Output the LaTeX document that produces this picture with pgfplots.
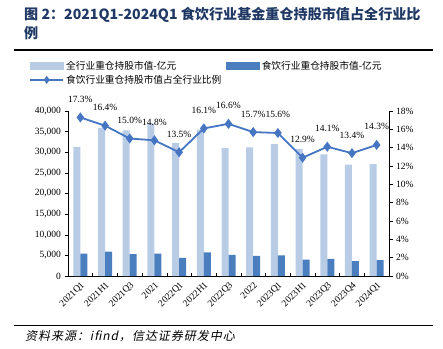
\documentclass[border=0pt]{standalone}
\usepackage{fontspec}
\setmainfont{Liberation Serif}
\newfontfamily\cjk{Noto Sans CJK SC}
\newfontfamily\cjkit{Noto Sans CJK SC}[FakeSlant=0.2, LetterSpace=8]
\usepackage{pgfplots}
\usepackage{pgfplotstable}
\pgfplotsset{compat=1.18}
\definecolor{titlecol}{HTML}{203864}
\definecolor{lightbar}{HTML}{B8CCE6}
\definecolor{darkbar}{HTML}{4A7EBF}
\definecolor{linecol}{HTML}{4675C2}

\pgfplotstableread{
x total food ratio
0 31300 5400 17.3
1 35900 5900 16.4
2 35300 5300 15.0
3 37000 5450 14.8
4 32300 4400 13.5
5 35500 5700 16.1
6 31000 5150 16.6
7 31200 4900 15.7
8 32000 5000 15.6
9 30800 4000 12.9
10 29500 4150 14.1
11 27000 3600 13.4
12 27100 3850 14.3
}\datatable

\begin{document}
\begin{tikzpicture}[x=1pt,y=1pt]
\useasboundingbox (0,0) rectangle (443,348);
\node[anchor=west, text=titlecol, inner sep=0, font=\cjk\bfseries\fontsize{14.1}{17}\selectfont] at (24,333) {图 2：2021Q1-2024Q1 食饮行业基金重仓持股市值占全行业比};
\node[anchor=west, text=titlecol, inner sep=0, font=\cjk\bfseries\fontsize{14.1}{17}\selectfont] at (24,315) {例};
\draw[line width=1.2pt] (14,298) -- (433,298);
\draw[line width=0.8pt] (14,23) -- (433,23);
\node[anchor=west, inner sep=0, font=\cjkit\fontsize{12}{14}\selectfont] at (25,12) {资料来源：ifind，信达证券研发中心};

\begin{axis}[
  at={(68pt,72pt)}, anchor=south west,
  scale only axis, width=321pt, height=165pt,
  xmin=-0.5, xmax=12.5, ymin=0, ymax=40000,
  axis x line*=bottom, axis y line*=left,
  axis line style={line width=0.6pt},
  ybar=0pt, bar width=7pt,
  xtick={0,...,12},
  xticklabels={2021Q1,2021H1,2021Q3,2021,2022Q1,2022H1,2022Q3,2022,2023Q1,2023H1,2023Q3,2023Q4,2024Q1},
  xticklabel style={rotate=45, anchor=north east, inner sep=1pt},
  major x tick style={draw=none},
  extra x ticks={-0.5,0.5,...,12.5},
  extra x tick labels={},
  extra x tick style={tick align=inside, major tick length=3pt, major x tick style={draw=black, line width=0.5pt}},
  ytick={0,5000,...,40000},
  scaled y ticks=false,
  yticklabel style={/pgf/number format/.cd, 1000 sep={,}},
  tick align=outside, major tick length=3.5pt,
  tick style={line width=0.5pt, black},
  tick label style={font=\fontsize{9.5}{11}\selectfont},
  /pgf/number format/assume math mode=true,
]
\addplot[fill=lightbar, draw=none] table[x=x, y=total] {\datatable};
\addplot[fill=darkbar, draw=none] table[x=x, y=food] {\datatable};
\end{axis}

\begin{axis}[
  at={(68pt,72pt)}, anchor=south west,
  scale only axis, width=321pt, height=165pt,
  xmin=-0.5, xmax=12.5, ymin=0, ymax=18,
  axis x line=none, axis y line*=right,
  axis line style={line width=0.6pt},
  ytick={0,2,...,18},
  yticklabel={\pgfmathprintnumber{\tick}\%},
  tick align=outside, major tick length=3.5pt,
  tick style={line width=0.5pt, black},
  tick label style={font=\fontsize{9.5}{11}\selectfont},
  /pgf/number format/assume math mode=true,
  legend columns=2,
  legend cell align=left,
  legend style={at={(axis description cs:-0.121,1.315)}, anchor=north west, draw=none, fill=none,
    font=\cjk\fontsize{9.7}{11}\selectfont, inner sep=0pt, row sep=0pt,
    /tikz/every even column/.append style={column sep=3pt}},
]
\addlegendimage{legend image code/.code={\fill[lightbar] (0pt,-3.5pt) rectangle (33pt,3.5pt);}}
\addlegendentry{全行业重仓持股市值-亿元}
\addlegendimage{legend image code/.code={\fill[darkbar] (0pt,-3.5pt) rectangle (33pt,3.5pt);}}
\addlegendentry{食饮行业重仓持股市值-亿元}
\addplot[color=linecol, line width=1.8pt, mark=diamond*, mark size=3.6pt,
  legend image code/.code={\draw[mark repeat=2, mark phase=2, mark size=2.5pt] plot coordinates {(0pt,0pt) (16.5pt,0pt) (33pt,0pt)};},
  nodes near coords={\pgfmathprintnumber[fixed,fixed zerofill,precision=1]{\pgfplotspointmeta}\%},
  every node near coord/.append style={font=\fontsize{9.5}{11}\selectfont, text=black, anchor=south, inner sep=0pt, yshift=14pt},
] table[x=x, y=ratio] {\datatable};
\addlegendentry{食饮行业重仓持股市值占全行业比例}
\end{axis}
\end{tikzpicture}
\end{document}
